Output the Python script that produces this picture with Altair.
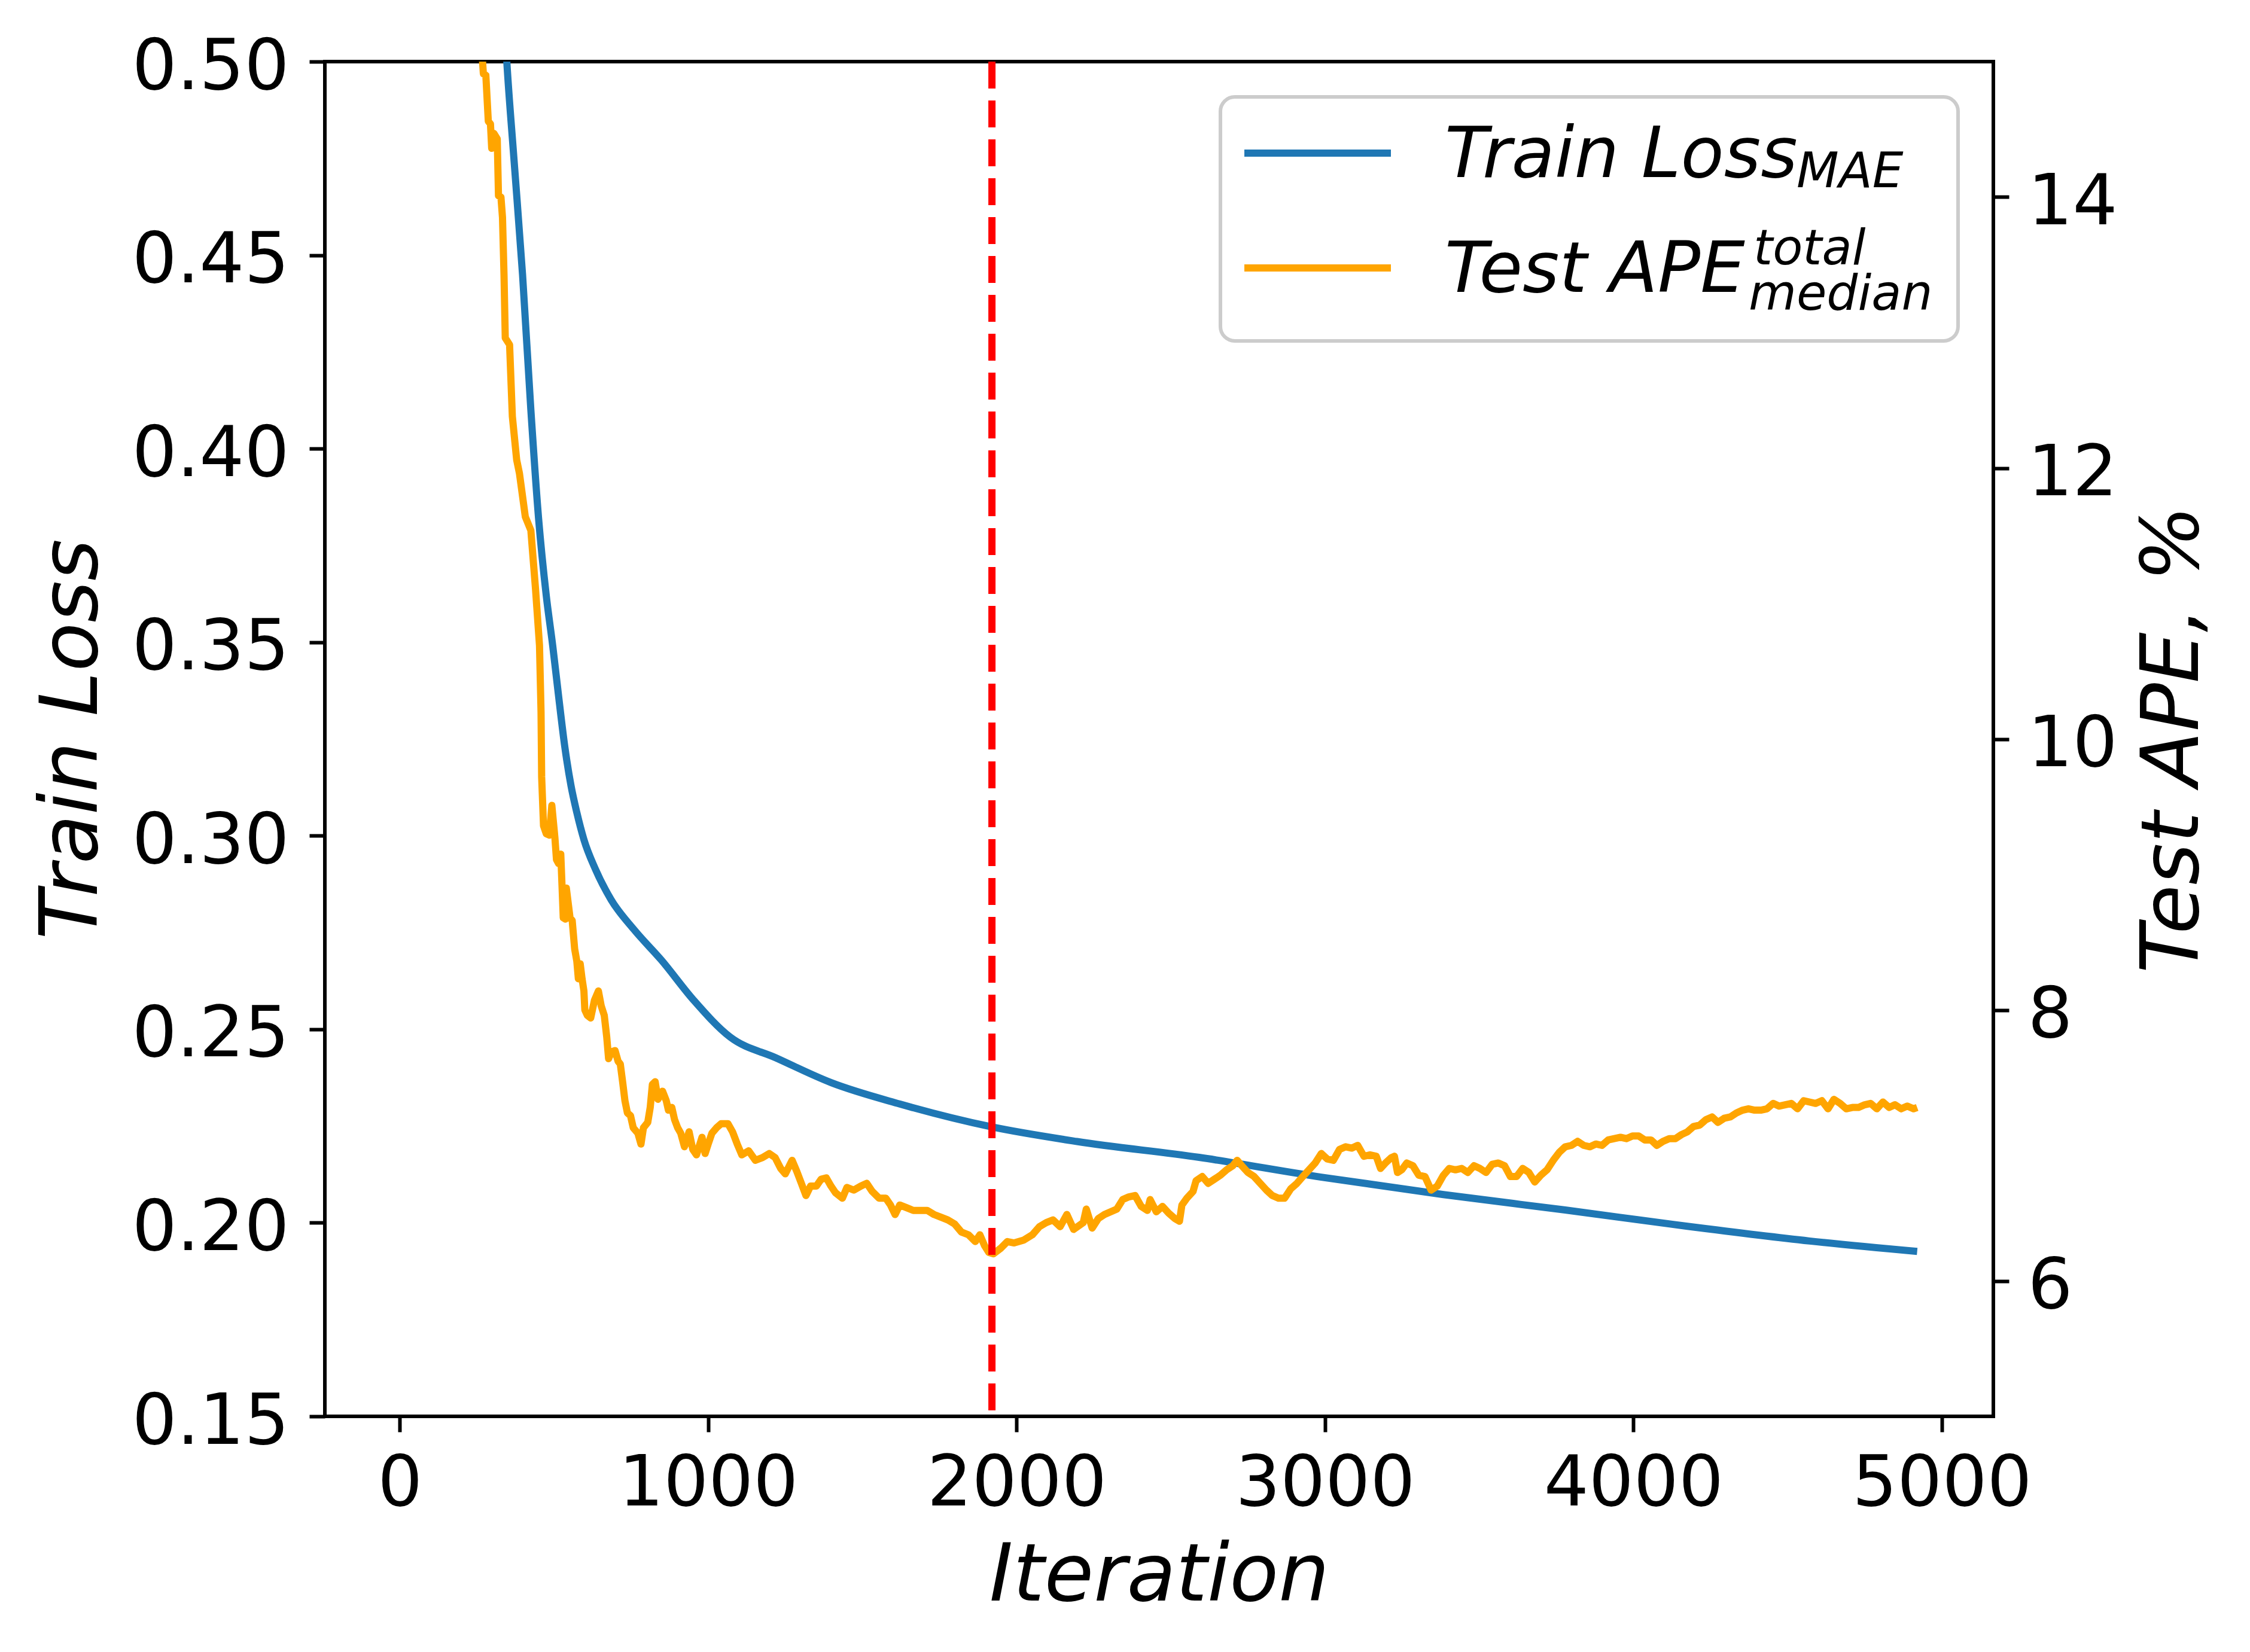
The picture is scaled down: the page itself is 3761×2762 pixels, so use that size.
import altair as alt
import pandas as pd

# ---------------- data ----------------
loss_iter = [330, 347, 370, 398, 425, 450, 475, 496, 515, 535, 555, 574, 597, 634, 685,
             760, 849, 952, 1071, 1220, 1399, 1621, 1918, 2196, 2592, 2988, 3384, 3779,
             4175, 4571, 4920]
loss_val = [0.525, 0.500, 0.475, 0.445, 0.410, 0.382, 0.362, 0.349, 0.336, 0.323, 0.313,
            0.306, 0.299, 0.2914, 0.2835, 0.2757, 0.2678, 0.2576, 0.2480, 0.2426, 0.2362,
            0.2307, 0.2248, 0.2210, 0.2169, 0.2118, 0.2073, 0.2033, 0.1991, 0.1953, 0.1926]

ape_iter = [258, 271, 279, 287, 294, 298, 305, 316, 320, 328, 333, 338, 342, 356, 365, 379,
            388, 407, 425, 440, 453, 458, 460, 466, 475, 485, 493, 503, 508, 515, 522, 527,
            530, 537, 540, 552, 559, 567, 574, 579, 585, 591, 597, 600, 608, 619, 631, 644,
            653, 663, 671, 677, 686, 698, 708, 715, 723, 730, 738, 748, 757, 772, 782, 790,
            804, 812, 819, 828, 837, 852, 864, 871, 882, 891, 901, 911, 923, 938, 950, 962,
            980, 990, 1000, 1012, 1027, 1042, 1064, 1079, 1094, 1109, 1131, 1153, 1176, 1198,
            1217, 1235, 1250, 1272, 1287, 1302, 1317, 1332, 1351, 1366, 1383, 1398, 1413,
            1435, 1450, 1472, 1495, 1514, 1532, 1554, 1576, 1591, 1606, 1621, 1643, 1665,
            1688, 1710, 1732, 1755, 1777, 1799, 1821, 1844, 1866, 1881, 1896, 1910, 1925,
            1948, 1970, 1992, 2022, 2051, 2074, 2096, 2118, 2141, 2163, 2185,
            2216, 2226, 2245, 2265, 2285, 2305, 2325, 2344, 2364, 2384, 2404, 2424, 2433,
            2453, 2473, 2493, 2513, 2528, 2536, 2552, 2572, 2582, 2602, 2621, 2641, 2661,
            2681, 2701, 2715, 2730, 2750, 2770, 2790, 2810, 2829, 2849, 2869, 2889, 2909,
            2928, 2948, 2968, 2988, 3007, 3027, 3047, 3067, 3087, 3106, 3126, 3146, 3166,
            3180, 3196, 3215, 3225, 3235, 3249, 3265, 3285, 3304, 3324, 3344, 3364, 3384,
            3403, 3423, 3443, 3463, 3483, 3502, 3522, 3542, 3562, 3582, 3601, 3621, 3641,
            3661, 3680, 3700, 3720, 3740, 3760, 3779, 3799, 3819, 3839, 3859, 3878, 3898,
            3918, 3938, 3958, 3977, 3997, 4017, 4037, 4057, 4076, 4096, 4116, 4136, 4156,
            4175, 4195, 4215, 4235, 4255, 4274, 4294, 4314, 4334, 4354, 4373, 4393, 4413,
            4433, 4453, 4472, 4492, 4512, 4532, 4552, 4571, 4591, 4611, 4631, 4650, 4670,
            4690, 4710, 4730, 4750, 4769, 4789, 4809, 4829, 4848, 4868, 4888, 4908, 4920]
ape_val = [15.35, 14.91, 14.90, 14.56, 14.54, 14.36, 14.47, 14.43, 14.01, 14.00, 13.85, 13.42,
           12.96, 12.91, 12.38, 12.06, 11.96, 11.64, 11.54, 11.11, 10.69, 10.20, 9.72, 9.36,
           9.30, 9.29, 9.51, 9.27, 9.11, 9.08, 9.15, 8.86, 8.68, 8.67, 8.90, 8.68, 8.66, 8.45,
           8.36, 8.23, 8.34, 8.23, 8.14, 8.00, 7.96, 7.94, 8.07, 8.14, 8.03, 7.96, 7.80, 7.64,
           7.69, 7.70, 7.62, 7.60, 7.46, 7.33, 7.24, 7.22, 7.13, 7.09, 7.01, 7.13, 7.17, 7.28,
           7.45, 7.47, 7.34, 7.40, 7.33, 7.26, 7.28, 7.19, 7.13, 7.09, 6.99, 7.10, 6.97, 6.93,
           7.06, 6.94, 7.01, 7.09, 7.13, 7.16, 7.16, 7.10, 7.01, 6.93, 6.96, 6.89, 6.91, 6.94,
           6.91, 6.83, 6.79, 6.89, 6.81, 6.72, 6.63, 6.70, 6.70, 6.75, 6.76, 6.70, 6.65,
           6.61, 6.69, 6.67, 6.70, 6.72, 6.66, 6.61, 6.61, 6.56, 6.49, 6.56, 6.54, 6.52,
           6.52, 6.52, 6.49, 6.47, 6.45, 6.42, 6.36, 6.34, 6.29, 6.34, 6.26, 6.21, 6.20,
           6.24, 6.29, 6.28, 6.30, 6.34, 6.40, 6.43, 6.45, 6.40, 6.49, 6.38,
           6.43, 6.53, 6.39, 6.46, 6.49, 6.51, 6.53, 6.60, 6.62, 6.63, 6.55, 6.52, 6.60,
           6.51, 6.55, 6.50, 6.46, 6.44, 6.56, 6.61, 6.66, 6.74, 6.77, 6.72, 6.75, 6.78,
           6.82, 6.85, 6.89, 6.85, 6.80, 6.77, 6.72, 6.67, 6.63, 6.61, 6.61, 6.68, 6.72,
           6.77, 6.82, 6.87, 6.94, 6.90, 6.89, 6.97, 6.99, 6.98, 7.00, 6.92, 6.93, 6.92,
           6.83, 6.87, 6.91, 6.92, 6.80, 6.82, 6.87, 6.85, 6.78, 6.77, 6.67, 6.70, 6.78,
           6.83, 6.82, 6.83, 6.80, 6.85, 6.83, 6.80, 6.86, 6.87, 6.85, 6.77, 6.77, 6.83,
           6.80, 6.73, 6.78, 6.82, 6.89, 6.95, 6.99, 7.00, 7.03, 7.00, 6.99, 7.01, 7.00,
           7.04, 7.05, 7.06, 7.05, 7.07, 7.07, 7.04, 7.04, 7.00, 7.03, 7.05, 7.05, 7.08,
           7.10, 7.14, 7.15, 7.19, 7.21, 7.17, 7.20, 7.21, 7.24, 7.26, 7.27, 7.26, 7.26,
           7.27, 7.31, 7.29, 7.30, 7.31, 7.27, 7.33, 7.32, 7.31, 7.33, 7.27, 7.34, 7.31,
           7.27, 7.28, 7.28, 7.30, 7.31, 7.27, 7.32, 7.28, 7.30, 7.27, 7.29, 7.27, 7.28]

best_iter = [1920]

x_ticks = [0, 1000, 2000, 3000, 4000, 5000]
left_ticks = [0.15, 0.20, 0.25, 0.30, 0.35, 0.40, 0.45, 0.50]
right_ticks = [6, 8, 10, 12, 14]

# ---------------- chart ----------------
W, H = 2789, 2265
FONT = "DejaVu Sans"
BLUE = "#1f77b4"
ORANGE = "#ffa500"
LW = 12

df_loss = pd.DataFrame({"iter": loss_iter, "loss": loss_val})
df_ape = pd.DataFrame({"iter": ape_iter, "ape": ape_val})
df_best = pd.DataFrame({"iter": best_iter})
one = pd.DataFrame({"a": [0]})

x_scale = alt.Scale(domain=[-243, 5167], nice=False, zero=False)
x_axis = alt.Axis(values=x_ticks, format="d", title="Iteration",
                  labelPadding=29, labelFlush=False, labelOverlap=False, labelLimit=2000,
                  titleX=W / 2, titleY=307, titleAlign="center",
                  titleBaseline="alphabetic")

blue = alt.Chart(df_loss).mark_line(
    color=BLUE, strokeWidth=LW, clip=True, strokeJoin="round", interpolate="monotone"
).encode(
    x=alt.X("iter:Q", scale=x_scale, axis=x_axis),
    y=alt.Y("loss:Q",
            scale=alt.Scale(domain=[0.15, 0.50], nice=False, zero=False),
            axis=alt.Axis(orient="left", values=left_ticks, format=".2f",
                          title="Train Loss", labelPadding=34, labelOffset=10,
                          labelFlush=False, labelOverlap=False, labelLimit=2000,
                          titleAngle=270, titleX=-382, titleY=H / 2,
                          titleAlign="center", titleBaseline="alphabetic")),
)

orange = alt.Chart(df_ape).mark_line(
    color=ORANGE, strokeWidth=LW, clip=True, strokeJoin="round"
).encode(
    x=alt.X("iter:Q", scale=x_scale, axis=x_axis),
    y=alt.Y("ape:Q",
            scale=alt.Scale(domain=[5, 15], nice=False, zero=False),
            axis=alt.Axis(orient="right", values=right_ticks, format="d",
                          title="Test APE, %", labelPadding=31, labelOffset=10,
                          labelFlush=False, labelOverlap=False, labelLimit=2000,
                          titleAngle=270, titleX=341, titleY=H / 2,
                          titleAlign="center", titleBaseline="alphabetic")),
)

red = alt.Chart(df_best).mark_rule(
    color="#ff0000", strokeWidth=LW, strokeDash=[45, 20]
).encode(x=alt.X("iter:Q", scale=x_scale, axis=x_axis))

# ---------------- legend (drawn by hand to allow sub/superscripts) ----------------
frame = alt.Chart(one).mark_rect(
    fill="white", fillOpacity=0.8, stroke="#cccccc", strokeWidth=6, cornerRadius=24
).encode(x=alt.value(1497), x2=alt.value(2730), y=alt.value(59), y2=alt.value(467))

leg_blue = alt.Chart(one).mark_rule(color=BLUE, strokeWidth=LW).encode(
    x=alt.value(1537), x2=alt.value(1782), y=alt.value(153))
leg_orange = alt.Chart(one).mark_rule(color=ORANGE, strokeWidth=LW).encode(
    x=alt.value(1537), x2=alt.value(1782), y=alt.value(345))


def txt(s, x, y, size):
    return alt.Chart(one).mark_text(
        text=s, font=FONT, fontStyle="italic", fontSize=size, color="black",
        align="left", baseline="alphabetic"
    ).encode(x=alt.value(x), y=alt.value(y))


legend = [
    frame, leg_blue, leg_orange,
    txt("Train Loss", 1872, 193, 118),
    txt("MAE", 2460, 210, 82),
    txt("Test APE", 1872, 385, 118),
    txt("total", 2388, 339, 82),
    txt("median", 2380, 415, 82),
]

chart = alt.layer(blue, orange, red, *legend).resolve_scale(
    y="independent"
).properties(
    width=W, height=H,
    background="white",
    autosize=alt.AutoSizeParams(type="none"),
    padding={"left": 535, "top": 95, "right": 421, "bottom": 386},
).configure_view(
    stroke="black", strokeWidth=6
).configure_axis(
    domain=False, grid=False, ticks=True,
    tickColor="black", tickSize=26, tickWidth=6,
    labelFont=FONT, labelFontSize=118, labelColor="black",
    titleFont=FONT, titleFontSize=134, titleFontStyle="italic",
    titleFontWeight="normal", titleColor="black",
)

chart.save("out.html", embed_options={"renderer": "svg", "actions": False})
